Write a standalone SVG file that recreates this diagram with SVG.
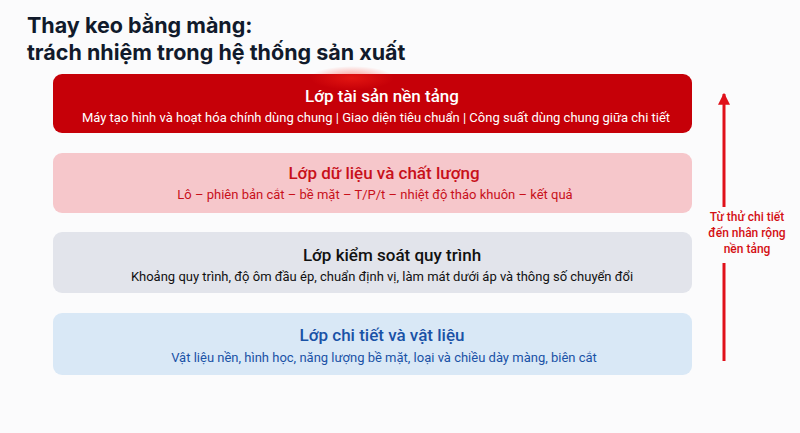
<svg xmlns="http://www.w3.org/2000/svg" width="800" height="433" viewBox="0 0 800 433">
<defs>
<style>
.ttl{font-family:Inter,"Noto Sans",sans-serif;font-weight:700;font-size:21.5px;fill:#111a2b}
.h{font-family:Roboto,"Noto Sans",sans-serif;font-size:17px;font-weight:500;text-anchor:middle}
.s{font-family:Roboto,"Noto Sans",sans-serif;font-size:13px;text-anchor:middle}
.side{font-family:Roboto,"Noto Sans",sans-serif;font-size:12px;font-weight:500;fill:#d40f14;text-anchor:middle}
</style>
<radialGradient id="glow" cx="0.5" cy="0.5" r="0.5">
<stop offset="0" stop-color="#ff2a1a" stop-opacity="0.5"/>
<stop offset="1" stop-color="#ff2a1a" stop-opacity="0"/>
</radialGradient>
<marker id="ah" viewBox="0 0 10 10" refX="9" refY="5" markerWidth="4" markerHeight="4" orient="auto">
<path d="M0,0 L10,5 L0,10 z" fill="#e0101a"/>
</marker>
</defs>
<rect width="800" height="433" fill="#fbfbfc"/>
<g id="title">
<text class="ttl" x="27" y="33">Thay keo bằng màng:</text>
<text class="ttl" x="27" y="59.5">trách nhiệm trong hệ thống sản xuất</text>
</g>
<g id="layer-platform">
<rect x="53" y="74" width="639" height="59" rx="9" fill="#c60008"/>
<ellipse cx="352" cy="78" rx="42" ry="12" fill="url(#glow)"/>
<text class="h" x="382" y="102" fill="#ffffff">Lớp tài sản nền tảng</text>
<text class="s" x="376" y="122" fill="#ffffff">Máy tạo hình và hoạt hóa chính dùng chung | Giao diện tiêu chuẩn | Công suất dùng chung giữa chi tiết</text>
</g>
<g id="layer-data">
<rect x="53" y="153" width="639" height="60" rx="9" fill="#f6c7cb"/>
<text class="h" x="384" y="179" fill="#c8101a">Lớp dữ liệu và chất lượng</text>
<text class="s" x="375" y="199" fill="#c8101a">Lô – phiên bản cắt – bề mặt – T/P/t – nhiệt độ tháo khuôn – kết quả</text>
</g>
<g id="layer-process">
<rect x="53" y="232" width="639" height="61" rx="9" fill="#e2e4eb"/>
<text class="h" x="392" y="261" fill="#111111">Lớp kiểm soát quy trình</text>
<text class="s" x="382" y="281" fill="#111111">Khoảng quy trình, độ ôm đầu ép, chuẩn định vị, làm mát dưới áp và thông số chuyển đổi</text>
</g>
<g id="layer-part">
<rect x="53" y="313" width="639" height="62" rx="9" fill="#d9e8f6"/>
<text class="h" x="382" y="341" fill="#1a52a6">Lớp chi tiết và vật liệu</text>
<text class="s" x="384" y="362" fill="#1a52a6">Vật liệu nền, hình học, năng lượng bề mặt, loại và chiều dày màng, biên cắt</text>
</g>
<g id="connectors">
<line x1="724" y1="361" x2="724" y2="263" stroke="#e0101a" stroke-width="3"/>
<line x1="724" y1="207" x2="724" y2="94" stroke="#e0101a" stroke-width="3" marker-end="url(#ah)"/>
</g>
<g id="side-label">
<text class="side" x="747" y="221">Từ thử chi tiết</text>
<text class="side" x="747" y="237">đến nhân rộng</text>
<text class="side" x="747" y="253">nền tảng</text>
</g>
</svg>
